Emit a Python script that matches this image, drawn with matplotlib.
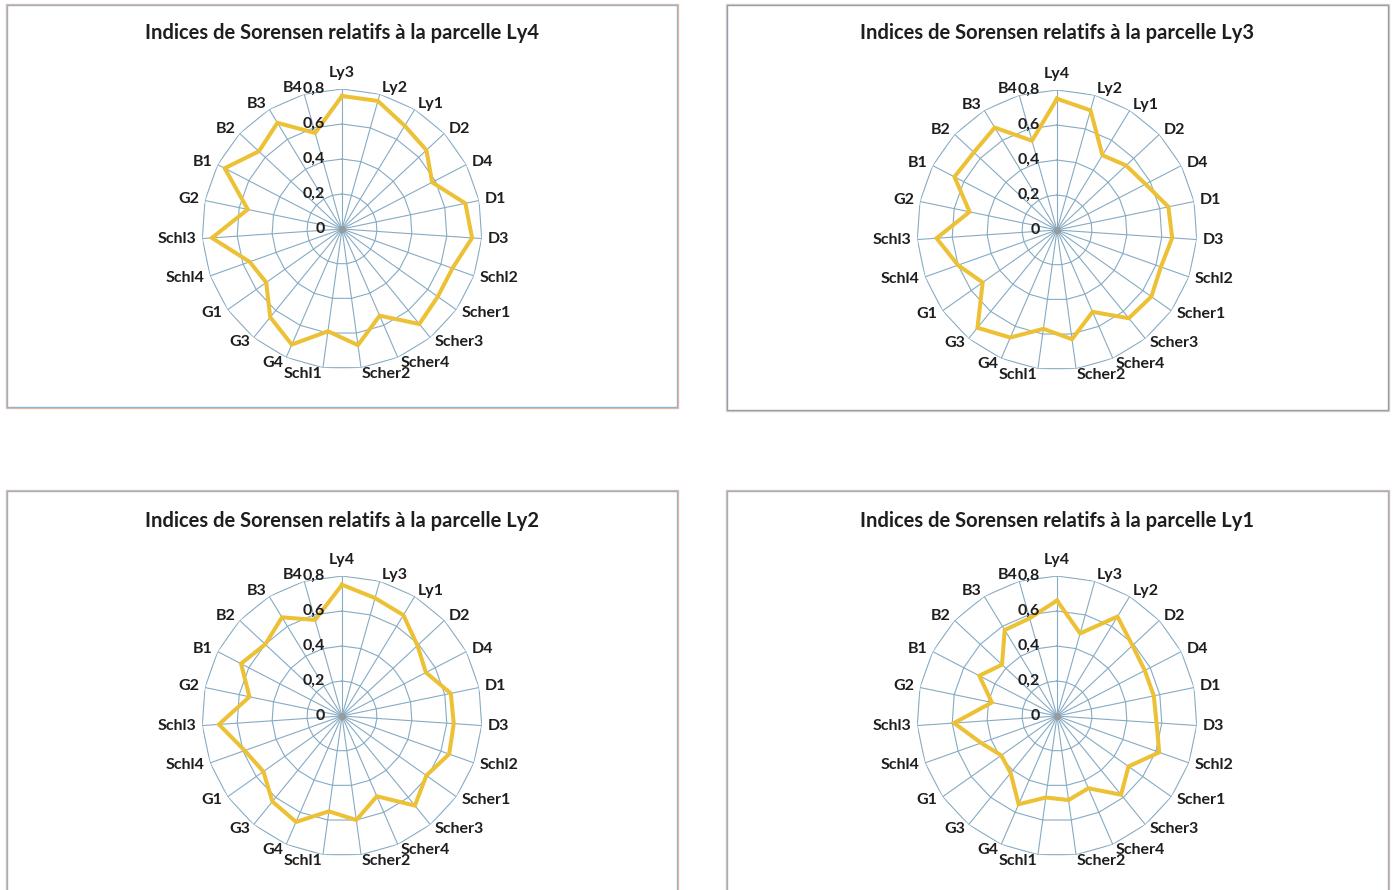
import matplotlib
matplotlib.use("Agg")
import numpy as np
import matplotlib.pyplot as plt
from matplotlib.patches import Rectangle

# ---------------- data ----------------
common_cats = ["D2", "D4", "D1", "D3", "Schl2", "Scher1", "Scher3", "Scher4",
               "Scher2", "Schl1", "G4", "G3", "G1", "Schl4", "Schl3", "G2",
               "B1", "B2", "B3", "B4"]
cats_ly4 = ["Ly3", "Ly2", "Ly1"] + common_cats
cats_ly3 = ["Ly4", "Ly2", "Ly1"] + common_cats
cats_ly2 = ["Ly4", "Ly3", "Ly1"] + common_cats
cats_ly1 = ["Ly4", "Ly3", "Ly2"] + common_cats

vals_ly4 = [0.76, 0.76, 0.69, 0.66, 0.58, 0.72, 0.745, 0.67, 0.67, 0.70, 0.54,
            0.67, 0.59, 0.72, 0.65, 0.53, 0.56, 0.745, 0.55, 0.755, 0.65, 0.71, 0.57]
vals_ly3 = [0.75, 0.71, 0.50, 0.54, 0.57, 0.65, 0.66, 0.63, 0.66, 0.65, 0.51,
            0.63, 0.57, 0.67, 0.72, 0.52, 0.60, 0.69, 0.51, 0.66, 0.65, 0.685, 0.53]
vals_ly2 = [0.75, 0.70, 0.675, 0.59, 0.54, 0.635, 0.64, 0.65, 0.59, 0.66, 0.50,
            0.60, 0.55, 0.66, 0.63, 0.55, 0.59, 0.705, 0.54, 0.65, 0.60, 0.66, 0.57]
vals_ly1 = [0.66, 0.49, 0.665, 0.59, 0.565, 0.565, 0.57, 0.62, 0.50, 0.58, 0.45,
            0.485, 0.47, 0.55, 0.42, 0.39, 0.46, 0.59, 0.38, 0.50, 0.43, 0.575, 0.58]

titles = ["Indices de Sorensen relatifs à la parcelle Ly4",
          "Indices de Sorensen relatifs à la parcelle Ly3",
          "Indices de Sorensen relatifs à la parcelle Ly2",
          "Indices de Sorensen relatifs à la parcelle Ly1"]
rticks = [0, 0.2, 0.4, 0.6, 0.8]
rtick_labels = ["0", "0,2", "0,4", "0,6", "0,8"]

# ---------------- layout ----------------
W, H = 1393, 890
fig = plt.figure(figsize=(W / 100, H / 100), dpi=100)
fig.patch.set_facecolor("white")

FONT = ["Lato", "DejaVu Sans"]
LINE_COL = "#EDC135"
GRID_COL = "#86ABC4"
TXT_COL = "#1e1e1e"
RMAX = 0.8
R_PX = 140

boxes = [(7, 5, 677, 407), (727, 5, 1388, 410), (7, 491, 677, 900), (727, 491, 1388, 900)]
box_cols = [("#F0B89E", "#95B3C8"), ("#F3C7B2", "#7FA5BF"),
            ("#F0B89E", "#95B3C8"), ("#F0B89E", "#95B3C8")]
centers = [(342, 229), (1057, 230), (342, 716), (1057, 716)]
title_pos = [(342, 33), (1057, 33), (342, 521), (1057, 521)]
cats_all = [cats_ly4, cats_ly3, cats_ly2, cats_ly1]
vals_all = [vals_ly4, vals_ly3, vals_ly2, vals_ly1]


def fx(x):
    return x / W


def fy(y):
    return 1 - y / H


for (x0, y0, x1, y1), (c_out, c_in) in zip(boxes, box_cols):
    fig.patches.append(Rectangle((fx(x0 - 1), fy(y1 + 1)), fx(x1 - x0 + 2), (y1 - y0 + 2) / H,
                                 transform=fig.transFigure, fill=False,
                                 edgecolor=c_out, linewidth=1.0))
    fig.patches.append(Rectangle((fx(x0), fy(y1)), fx(x1 - x0), (y1 - y0) / H,
                                 transform=fig.transFigure, fill=False,
                                 edgecolor=c_in, linewidth=1.0))

for title, (tx, ty) in zip(titles, title_pos):
    fig.text(fx(tx), fy(ty), title, ha="center", va="center", fontsize=14.5,
             fontweight="bold", family=FONT, color=TXT_COL)

for cats, vals, (cx, cy) in zip(cats_all, vals_all, centers):
    ax = fig.add_axes([fx(cx - R_PX), fy(cy + R_PX), fx(2 * R_PX), 2 * R_PX / H],
                      projection="polar")
    ax.set_theta_zero_location("N")
    ax.set_theta_direction(-1)
    ax.set_ylim(0, RMAX)
    ax.set_axis_off()
    n = len(cats)
    theta = np.arange(n) * 2 * np.pi / n
    tclosed = np.append(theta, theta[0])
    # polygon rings
    for r in rticks[1:]:
        ax.plot(tclosed, np.full(n + 1, r), color=GRID_COL, lw=0.8, zorder=1)
    # spokes
    for t in theta:
        ax.plot([t, t], [0, RMAX], color=GRID_COL, lw=0.8, zorder=1)
    ax.plot([0], [0], marker="o", ms=4, color="#9a9a9a", zorder=2)
    # series
    vclosed = np.append(vals, vals[0])
    ax.plot(tclosed, vclosed, color=LINE_COL, lw=2.9, zorder=3,
            solid_joinstyle="miter")
    # radial tick labels
    for r, lab in zip(rticks, rtick_labels):
        ax.annotate(lab, xy=(0, r), xytext=(-17, 0), textcoords="offset pixels",
                    ha="right", va="center", fontsize=11.5, fontweight="bold",
                    family=FONT, color=TXT_COL, annotation_clip=False)
    # category labels
    for t, lab in zip(theta, cats):
        s, c = np.sin(t), np.cos(t)
        if abs(s) < 0.05:
            ha = "center"
        elif s > 0:
            ha = "left"
        else:
            ha = "right"
        va = "bottom" if c > 0.99 else "center"
        off = 6
        ax.annotate(lab, xy=(t, RMAX), xytext=(s * off, c * off + (3 if c > 0.99 else 0)),
                    textcoords="offset pixels", ha=ha, va=va, fontsize=11.5,
                    fontweight="bold", family=FONT, color=TXT_COL,
                    annotation_clip=False)

fig.savefig("out.png", dpi=100, facecolor="white")
